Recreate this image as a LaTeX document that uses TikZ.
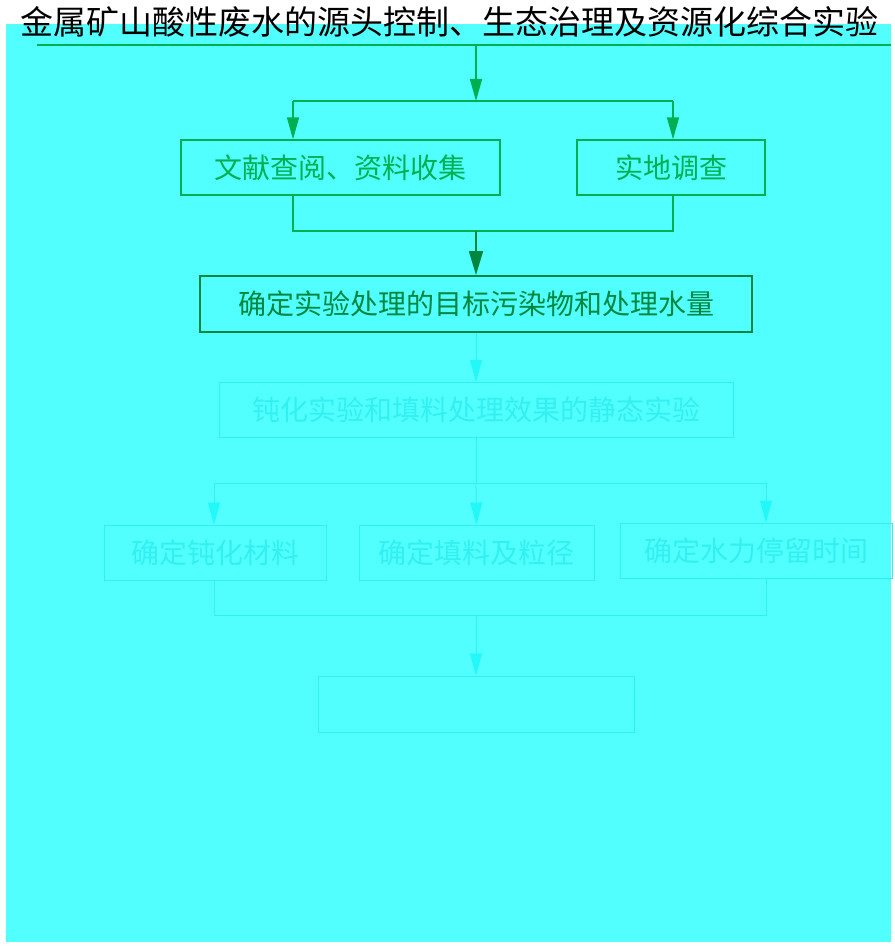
\documentclass[tikz,border=0pt]{standalone}
\usepackage{fontspec}
\setmainfont{Noto Sans CJK SC}
\usetikzlibrary{positioning, arrows.meta}
\definecolor{bgcyan}{HTML}{52FFFF}
\definecolor{flgreen}{HTML}{00B050}
\definecolor{fldark}{HTML}{00873F}
\definecolor{flpale}{HTML}{33F0F0}
\definecolor{fltip}{HTML}{22F8F8}

\begin{document}
\begin{tikzpicture}[x=1pt, y=-1pt, font=\fontsize{28}{32}\selectfont,
    box/.style={draw, inner sep=0pt, minimum height=55pt},
    greenbox/.style={box, draw=flgreen, line width=1.4pt, text=flgreen},
    darkbox/.style={box, draw=fldark, line width=1.8pt, text=fldark},
    palebox/.style={box, draw=flpale, line width=0.9pt, text=flpale},
    greenline/.style={draw=flgreen, line width=1.6pt},
    darkline/.style={draw=fldark, line width=1.8pt},
    paleline/.style={draw=flpale, line width=0.9pt},
    greentip/.style={-{Triangle[length=22pt, width=12pt]}, flgreen},
    darktip/.style={-{Triangle[length=24pt, width=14pt]}, fldark},
    paletip/.style={-{Triangle[length=22pt, width=12pt, color=fltip]}}]
    \useasboundingbox (0,0) rectangle (894,947);
    \fill[bgcyan] (6,24) rectangle (891,942);

    % title and rule below it
    \node[font=\fontsize{33}{36}\selectfont, inner sep=0pt] (title) at (449,22) {金属矿山酸性废水的源头控制、生态治理及资源化综合实验};
    \coordinate (rulel) at (37,45);
    \coordinate (ruler) at (891,45);
    \coordinate (rulem) at (476,45);
    \draw[greenline] (rulel) -- (ruler);

    % survey step
    \node[greenbox, minimum width=319pt] (lit) at (340.5,167.5) {文献查阅、资料收集};
    \node[greenbox, minimum width=188pt] (site) at (671,167.5) {实地调查};
    \coordinate (forka) at (476,101);
    \coordinate (forkal) at (293,101);
    \coordinate (forkar) at (673,101);
    \draw[greenline, greentip] (rulem) -- (forka);
    \draw[greenline] (forkal) -- (forkar);
    \draw[greenline, greentip] (forkal) -- (forkal |- lit.north);
    \draw[greenline, greentip] (forkar) -- (forkar |- site.north);

    % target pollutants
    \node[darkbox, minimum width=552pt, minimum height=56pt] (target) at (476,304) {确定实验处理的目标污染物和处理水量};
    \coordinate (joina) at (476,231);
    \draw[greenline] (forkal |- lit.south) |- (forkar |- joina) -- (forkar |- site.south);
    \draw[darkline, darktip] (joina) -- (target.north);

    % static test
    \node[palebox, minimum width=514pt, below=49pt of target] (static) {钝化实验和填料处理效果的静态实验};
    \draw[paleline, paletip] (target) -- (static);

    % three parameters
    \node[palebox, minimum width=222pt] (passiv) at (215,552.5) {确定钝化材料};
    \node[palebox, minimum width=235pt] (filler) at (476.5,552.5) {确定填料及粒径};
    \node[palebox, minimum width=272pt] (hrt) at (756,550.5) {确定水力停留时间};
    \coordinate (forkb) at (476,483);
    \coordinate (forkbl) at (214,483);
    \coordinate (forkbr) at (766,483);
    \draw[paleline] (static) -- (forkb);
    \draw[paleline] (forkbl) -- (forkbr);
    \draw[paleline, paletip] (forkbl) -- (forkbl |- passiv.north);
    \draw[paleline, paletip] (forkb) -- (filler.north);
    \draw[paleline, paletip] (forkbr) -- (forkbr |- hrt.north);

    % last step
    \node[palebox, minimum width=316pt, minimum height=56pt] (final) at (476,704) {};
    \coordinate (joinb) at (476,615);
    \draw[paleline] (forkbl |- passiv.south) |- (forkbr |- joinb) -- (forkbr |- hrt.south);
    \draw[paleline, paletip] (joinb) -- (final.north);
\end{tikzpicture}
\end{document}
